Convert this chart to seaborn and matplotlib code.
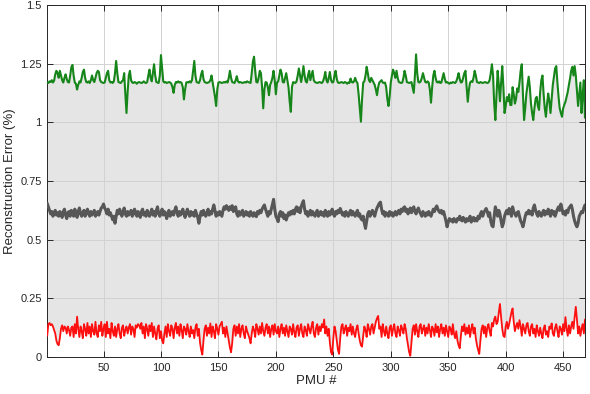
import numpy as np
import pandas as pd
import seaborn as sns
import matplotlib.pyplot as plt

# values, one per PMU (1..469)
err_max = [
    1.17, 1.168, 1.175, 1.172, 1.18, 1.17, 1.178, 1.205, 1.22, 1.21,
    1.19, 1.22, 1.2, 1.18, 1.17, 1.19, 1.205, 1.185, 1.172, 1.17,
    1.2, 1.235, 1.245, 1.2, 1.17, 1.165, 1.14, 1.16, 1.175, 1.17,
    1.19, 1.215, 1.225, 1.19, 1.172, 1.17, 1.175, 1.168, 1.18, 1.2,
    1.18, 1.172, 1.19, 1.21, 1.22, 1.215, 1.18, 1.172, 1.17, 1.168,
    1.17, 1.19, 1.21, 1.22, 1.18, 1.17, 1.172, 1.168, 1.175, 1.21,
    1.262, 1.21, 1.172, 1.17, 1.168, 1.175, 1.18, 1.21, 1.12, 1.04,
    1.13, 1.2, 1.22, 1.18, 1.17, 1.168, 1.172, 1.17, 1.165, 1.17,
    1.172, 1.17, 1.168, 1.17, 1.175, 1.17, 1.168, 1.172, 1.2, 1.225,
    1.19, 1.175, 1.21, 1.248, 1.2, 1.172, 1.17, 1.168, 1.2, 1.287,
    1.23, 1.175, 1.17, 1.172, 1.168, 1.17, 1.172, 1.17, 1.165, 1.15,
    1.126, 1.16, 1.172, 1.17, 1.175, 1.17, 1.172, 1.168, 1.15, 1.098,
    1.14, 1.17, 1.172, 1.17, 1.175, 1.17, 1.18, 1.22, 1.262, 1.2,
    1.172, 1.17, 1.168, 1.18, 1.205, 1.22, 1.185, 1.172, 1.17, 1.168,
    1.17, 1.172, 1.18, 1.2, 1.17, 1.14, 1.11, 1.07, 1.14, 1.17,
    1.172, 1.17, 1.168, 1.17, 1.172, 1.17, 1.175, 1.17, 1.19, 1.22,
    1.19, 1.172, 1.17, 1.168, 1.18, 1.197, 1.175, 1.17, 1.172, 1.17,
    1.168, 1.17, 1.172, 1.17, 1.175, 1.172, 1.17, 1.168, 1.21, 1.26,
    1.28, 1.22, 1.172, 1.17, 1.19, 1.22, 1.21, 1.15, 1.06, 1.14,
    1.172, 1.17, 1.15, 1.116, 1.16, 1.172, 1.19, 1.22, 1.18, 1.12,
    1.17, 1.175, 1.2, 1.225, 1.21, 1.172, 1.17, 1.19, 1.21, 1.18,
    1.15, 1.09, 1.045, 1.15, 1.172, 1.17, 1.168, 1.175, 1.2, 1.23,
    1.2, 1.172, 1.2, 1.24, 1.2, 1.175, 1.17, 1.2, 1.22, 1.18,
    1.2, 1.22, 1.18, 1.172, 1.17, 1.168, 1.17, 1.172, 1.17, 1.168,
    1.175, 1.19, 1.215, 1.18, 1.17, 1.19, 1.215, 1.18, 1.17, 1.172,
    1.2, 1.22, 1.185, 1.17, 1.168, 1.17, 1.172, 1.17, 1.168, 1.172,
    1.17, 1.165, 1.17, 1.168, 1.187, 1.172, 1.17, 1.175, 1.19, 1.175,
    1.168, 1.12, 1.06, 1.003, 1.1, 1.17, 1.175, 1.2, 1.237, 1.21,
    1.18, 1.172, 1.19, 1.18, 1.17, 1.16, 1.14, 1.116, 1.15, 1.17,
    1.175, 1.18, 1.17, 1.168, 1.17, 1.15, 1.1, 1.07, 1.11, 1.17,
    1.2, 1.225, 1.21, 1.19, 1.22, 1.19, 1.172, 1.17, 1.168, 1.17,
    1.19, 1.22, 1.2, 1.172, 1.17, 1.168, 1.17, 1.172, 1.15, 1.126,
    1.2, 1.29, 1.21, 1.172, 1.17, 1.175, 1.19, 1.21, 1.19, 1.172,
    1.17, 1.175, 1.17, 1.14, 1.084, 1.15, 1.2, 1.22, 1.19, 1.172,
    1.17, 1.175, 1.168, 1.17, 1.19, 1.21, 1.185, 1.17, 1.172, 1.168,
    1.165, 1.17, 1.168, 1.172, 1.17, 1.168, 1.175, 1.19, 1.21, 1.185,
    1.17, 1.172, 1.19, 1.21, 1.22, 1.15, 1.088, 1.14, 1.17, 1.175,
    1.172, 1.19, 1.22, 1.2, 1.172, 1.17, 1.168, 1.172, 1.17, 1.168,
    1.17, 1.172, 1.17, 1.168, 1.17, 1.18, 1.21, 1.248, 1.2, 1.08,
    1.01, 1.12, 1.22, 1.16, 1.09, 1.17, 1.24, 1.15, 1.04, 1.07,
    1.108, 1.09, 1.12, 1.074, 1.074, 1.15, 1.12, 1.08, 1.1, 1.145,
    1.13, 1.17, 1.22, 1.248, 1.12, 1.01, 1.06, 1.123, 1.16, 1.195,
    1.15, 1.08, 1.04, 1.01, 1.06, 1.1, 1.109, 1.07, 1.053, 1.13,
    1.18, 1.2, 1.12, 1.06, 1.024, 1.08, 1.123, 1.09, 1.04, 1.1,
    1.16, 1.195, 1.23, 1.24, 1.17, 1.109, 1.06, 1.04, 1.024, 1.06,
    1.075, 1.088, 1.11, 1.13, 1.16, 1.187, 1.22, 1.237, 1.2, 1.24,
    1.2, 1.137, 1.07, 1.12, 1.17, 1.04, 1.12, 1.18, 1.02,
]

err_mean = [
    0.655, 0.64, 0.625, 0.61, 0.62, 0.60, 0.615, 0.625, 0.605, 0.615,
    0.6, 0.62, 0.61, 0.595, 0.62, 0.63, 0.605, 0.59, 0.615, 0.62,
    0.6, 0.625, 0.61, 0.6, 0.63, 0.615, 0.595, 0.62, 0.635, 0.61,
    0.6, 0.615, 0.625, 0.6, 0.61, 0.63, 0.615, 0.6, 0.62, 0.605,
    0.615, 0.625, 0.6, 0.61, 0.62, 0.605, 0.62, 0.635, 0.64, 0.652,
    0.635, 0.625, 0.61, 0.63, 0.605, 0.615, 0.6, 0.585, 0.6, 0.57,
    0.6, 0.625, 0.61, 0.63, 0.615, 0.6, 0.62, 0.635, 0.61, 0.6,
    0.62, 0.605, 0.615, 0.625, 0.6, 0.61, 0.63, 0.615, 0.6, 0.62,
    0.61, 0.595, 0.62, 0.63, 0.605, 0.615, 0.6, 0.625, 0.61, 0.6,
    0.615, 0.63, 0.605, 0.62, 0.6, 0.625, 0.64, 0.61, 0.6, 0.615,
    0.63, 0.605, 0.62, 0.61, 0.59, 0.615, 0.625, 0.6, 0.61, 0.62,
    0.605, 0.625, 0.64, 0.615, 0.6, 0.62, 0.605, 0.615, 0.63, 0.61,
    0.595, 0.615, 0.63, 0.61, 0.6, 0.62, 0.605, 0.615, 0.6, 0.625,
    0.61, 0.595, 0.57, 0.6, 0.62, 0.605, 0.625, 0.61, 0.6, 0.615,
    0.63, 0.605, 0.62, 0.61, 0.63, 0.648, 0.625, 0.6, 0.615, 0.605,
    0.62, 0.61, 0.6, 0.625, 0.64, 0.63, 0.645, 0.635, 0.625, 0.64,
    0.63, 0.645, 0.62, 0.635, 0.64, 0.61, 0.6, 0.62, 0.605, 0.615,
    0.625, 0.6, 0.61, 0.62, 0.605, 0.615, 0.6, 0.62, 0.61, 0.6,
    0.615, 0.605, 0.598, 0.62, 0.61, 0.625, 0.615, 0.63, 0.64, 0.648,
    0.63, 0.615, 0.6, 0.62, 0.61, 0.63, 0.65, 0.672, 0.63, 0.6,
    0.59, 0.577, 0.61, 0.62, 0.6, 0.615, 0.59, 0.605, 0.584, 0.6,
    0.615, 0.605, 0.62, 0.61, 0.625, 0.61, 0.63, 0.64, 0.62, 0.635,
    0.615, 0.64, 0.655, 0.666, 0.63, 0.61, 0.62, 0.6, 0.615, 0.625,
    0.605, 0.62, 0.61, 0.6, 0.615, 0.625, 0.6, 0.61, 0.62, 0.605,
    0.615, 0.6, 0.625, 0.61, 0.6, 0.62, 0.605, 0.615, 0.63, 0.61,
    0.6, 0.62, 0.61, 0.625, 0.615, 0.633, 0.62, 0.605, 0.615, 0.6,
    0.62, 0.61, 0.6, 0.615, 0.625, 0.605, 0.62, 0.61, 0.6, 0.615,
    0.625, 0.6, 0.61, 0.59, 0.584, 0.6, 0.57, 0.548, 0.58, 0.61,
    0.62, 0.6, 0.615, 0.625, 0.61, 0.6, 0.62, 0.635, 0.645, 0.655,
    0.66, 0.63, 0.61, 0.62, 0.6, 0.615, 0.61, 0.6, 0.62, 0.605,
    0.615, 0.6, 0.61, 0.62, 0.605, 0.615, 0.625, 0.61, 0.63, 0.62,
    0.635, 0.64, 0.62, 0.63, 0.61, 0.625, 0.635, 0.615, 0.63, 0.64,
    0.62, 0.61, 0.625, 0.635, 0.62, 0.61, 0.6, 0.62, 0.61, 0.6,
    0.615, 0.605, 0.62, 0.61, 0.6, 0.615, 0.63, 0.62, 0.635, 0.644,
    0.63, 0.62, 0.615, 0.625, 0.61, 0.62, 0.6, 0.58, 0.555, 0.575,
    0.59, 0.58, 0.585, 0.575, 0.59, 0.58, 0.575, 0.59, 0.585, 0.6,
    0.585, 0.58, 0.595, 0.585, 0.575, 0.59, 0.58, 0.585, 0.6, 0.575,
    0.585, 0.595, 0.58, 0.59, 0.58, 0.6, 0.59, 0.61, 0.62, 0.6,
    0.615, 0.625, 0.633, 0.62, 0.6, 0.615, 0.58, 0.56, 0.555, 0.6,
    0.64, 0.62, 0.6, 0.625, 0.61, 0.58, 0.555, 0.57, 0.6, 0.615,
    0.625, 0.61, 0.633, 0.62, 0.6, 0.64, 0.62, 0.61, 0.6, 0.615,
    0.62, 0.6, 0.58, 0.57, 0.555, 0.575, 0.6, 0.615, 0.61, 0.625,
    0.61, 0.62, 0.605, 0.635, 0.648, 0.625, 0.61, 0.6, 0.62, 0.61,
    0.6, 0.615, 0.625, 0.605, 0.62, 0.61, 0.63, 0.615, 0.6, 0.625,
    0.61, 0.62, 0.6, 0.615, 0.63, 0.64, 0.625, 0.652, 0.63, 0.61,
    0.62, 0.605, 0.625, 0.615, 0.635, 0.64, 0.648, 0.63, 0.6, 0.58,
    0.565, 0.555, 0.57, 0.6, 0.61, 0.62, 0.615, 0.635, 0.648,
]

err_min = [
    0.09, 0.14, 0.145, 0.135, 0.14, 0.13, 0.115, 0.1, 0.07, 0.055,
    0.05, 0.08, 0.12, 0.135, 0.11, 0.13, 0.125, 0.1, 0.13, 0.115,
    0.09, 0.125, 0.13, 0.085, 0.14, 0.1, 0.172, 0.12, 0.085, 0.13,
    0.11, 0.08, 0.14, 0.12, 0.09, 0.145, 0.1, 0.13, 0.085, 0.14,
    0.11, 0.095, 0.15, 0.1, 0.085, 0.135, 0.11, 0.15, 0.09, 0.12,
    0.14, 0.085, 0.15, 0.1, 0.12, 0.08, 0.145, 0.11, 0.09, 0.13,
    0.085, 0.12, 0.14, 0.1, 0.08, 0.125, 0.135, 0.09, 0.115, 0.13,
    0.1, 0.125, 0.14, 0.095, 0.13, 0.12, 0.085, 0.135, 0.125, 0.14,
    0.135, 0.12, 0.145, 0.1, 0.13, 0.08, 0.14, 0.12, 0.09, 0.135,
    0.11, 0.145, 0.085, 0.13, 0.1, 0.075, 0.12, 0.135, 0.08, 0.11,
    0.07, 0.058, 0.1, 0.13, 0.085, 0.14, 0.11, 0.09, 0.135, 0.12,
    0.08, 0.125, 0.145, 0.1, 0.13, 0.09, 0.14, 0.115, 0.08, 0.13,
    0.12, 0.095, 0.14, 0.11, 0.085, 0.13, 0.1, 0.115, 0.08, 0.125,
    0.14, 0.09, 0.12, 0.06, 0.03, 0.01, 0.07, 0.12, 0.135, 0.09,
    0.125, 0.1, 0.143, 0.085, 0.13, 0.11, 0.08, 0.14, 0.12, 0.095,
    0.13, 0.14, 0.15, 0.1, 0.125, 0.085, 0.13, 0.1, 0.07, 0.04,
    0.02, 0.06, 0.12, 0.135, 0.09, 0.13, 0.1, 0.14, 0.085, 0.12,
    0.135, 0.1, 0.08, 0.13, 0.11, 0.095, 0.08, 0.058, 0.1, 0.13,
    0.115, 0.085, 0.14, 0.12, 0.095, 0.13, 0.1, 0.145, 0.11, 0.09,
    0.125, 0.14, 0.1, 0.13, 0.085, 0.12, 0.135, 0.095, 0.14, 0.11,
    0.1, 0.13, 0.085, 0.12, 0.14, 0.1, 0.125, 0.09, 0.135, 0.11,
    0.085, 0.13, 0.12, 0.095, 0.14, 0.105, 0.085, 0.125, 0.135, 0.09,
    0.12, 0.14, 0.1, 0.085, 0.13, 0.115, 0.09, 0.14, 0.12, 0.1,
    0.13, 0.15, 0.1, 0.085, 0.125, 0.14, 0.095, 0.13, 0.11, 0.14,
    0.125, 0.16, 0.1, 0.13, 0.09, 0.12, 0.06, 0.02, 0.01, 0.08,
    0.13, 0.11, 0.07, 0.03, 0.013, 0.08, 0.13, 0.14, 0.1, 0.12,
    0.135, 0.09, 0.125, 0.11, 0.14, 0.095, 0.13, 0.1, 0.085, 0.12,
    0.135, 0.1, 0.07, 0.05, 0.044, 0.09, 0.13, 0.115, 0.085, 0.14,
    0.12, 0.095, 0.13, 0.14, 0.1, 0.125, 0.15, 0.165, 0.175, 0.12,
    0.13, 0.085, 0.14, 0.11, 0.09, 0.13, 0.1, 0.08, 0.125, 0.135,
    0.09, 0.12, 0.14, 0.1, 0.085, 0.13, 0.115, 0.09, 0.135, 0.12,
    0.1, 0.14, 0.12, 0.08, 0.05, 0.02, 0.005, 0.06, 0.12, 0.135,
    0.095, 0.14, 0.11, 0.085, 0.13, 0.14, 0.1, 0.12, 0.135, 0.09,
    0.125, 0.1, 0.14, 0.115, 0.085, 0.13, 0.12, 0.09, 0.14, 0.105,
    0.13, 0.085, 0.12, 0.14, 0.1, 0.125, 0.09, 0.135, 0.11, 0.085,
    0.13, 0.12, 0.095, 0.14, 0.1, 0.08, 0.11, 0.07, 0.05, 0.037,
    0.09, 0.13, 0.11, 0.14, 0.095, 0.125, 0.1, 0.135, 0.085, 0.12,
    0.14, 0.1, 0.125, 0.08, 0.05, 0.03, 0.013, 0.07, 0.12, 0.135,
    0.1, 0.13, 0.085, 0.125, 0.14, 0.11, 0.09, 0.145, 0.13, 0.16,
    0.172, 0.14, 0.15, 0.19, 0.226, 0.17, 0.12, 0.09, 0.085, 0.13,
    0.15, 0.12, 0.14, 0.165, 0.19, 0.207, 0.15, 0.11, 0.13, 0.145,
    0.12, 0.157, 0.13, 0.09, 0.14, 0.12, 0.1, 0.135, 0.145, 0.11,
    0.09, 0.13, 0.14, 0.1, 0.12, 0.085, 0.135, 0.11, 0.09, 0.125,
    0.1, 0.08, 0.12, 0.135, 0.095, 0.11, 0.085, 0.13, 0.12, 0.143,
    0.1, 0.09, 0.125, 0.14, 0.11, 0.085, 0.13, 0.12, 0.095, 0.14,
    0.11, 0.17, 0.12, 0.09, 0.135, 0.1, 0.13, 0.15, 0.12, 0.17,
    0.214, 0.16, 0.1, 0.13, 0.09, 0.12, 0.14, 0.1, 0.16,
]

pmu = np.arange(1, len(err_max) + 1)
df = pd.DataFrame({'pmu': pmu, 'max': err_max, 'mean': err_mean, 'min': err_min})

sns.set_style('ticks')
plt.rcParams['font.family'] = ['Liberation Sans', 'DejaVu Sans']

fig = plt.figure(figsize=(5.9, 3.94), dpi=100)
ax = fig.add_axes([0.08, 0.094, 0.9115, 0.893])

# shaded band between min and max
ax.fill_between(df['pmu'], df['min'], df['max'], color='#e5e5e5', lw=0, zorder=0.3)

sns.lineplot(data=df, x='pmu', y='max', color='#17861a', lw=1.5, ax=ax, zorder=3)
sns.lineplot(data=df, x='pmu', y='mean', color='#575757', lw=2.2, ax=ax, zorder=3)
sns.lineplot(data=df, x='pmu', y='min', color='#ff1010', lw=1.3, ax=ax, zorder=3)

ax.set_xlim(1, len(err_max))
ax.set_ylim(0, 1.5)
ax.set_xticks([50, 100, 150, 200, 250, 300, 350, 400, 450])
ax.set_yticks([0, 0.25, 0.5, 0.75, 1, 1.25, 1.5])
ax.set_yticklabels(['0', '0.25', '0.5', '0.75', '1', '1.25', '1.5'])

ax.grid(True, color='#d2d2d2', lw=0.7, zorder=0.5)
for s in ax.spines.values():
    s.set_visible(True)
    s.set_color('#262626')
    s.set_linewidth(0.7)
ax.tick_params(direction='in', top=True, right=True, length=4, width=0.7,
               labelsize=8, colors='#262626', pad=4)

ax.set_xlabel('PMU #', fontsize=9.5, color='#262626', labelpad=2)
ax.set_ylabel('Reconstruction Error (%)', fontsize=9.5, color='#262626', labelpad=3)

fig.savefig('out.png', dpi=100)
